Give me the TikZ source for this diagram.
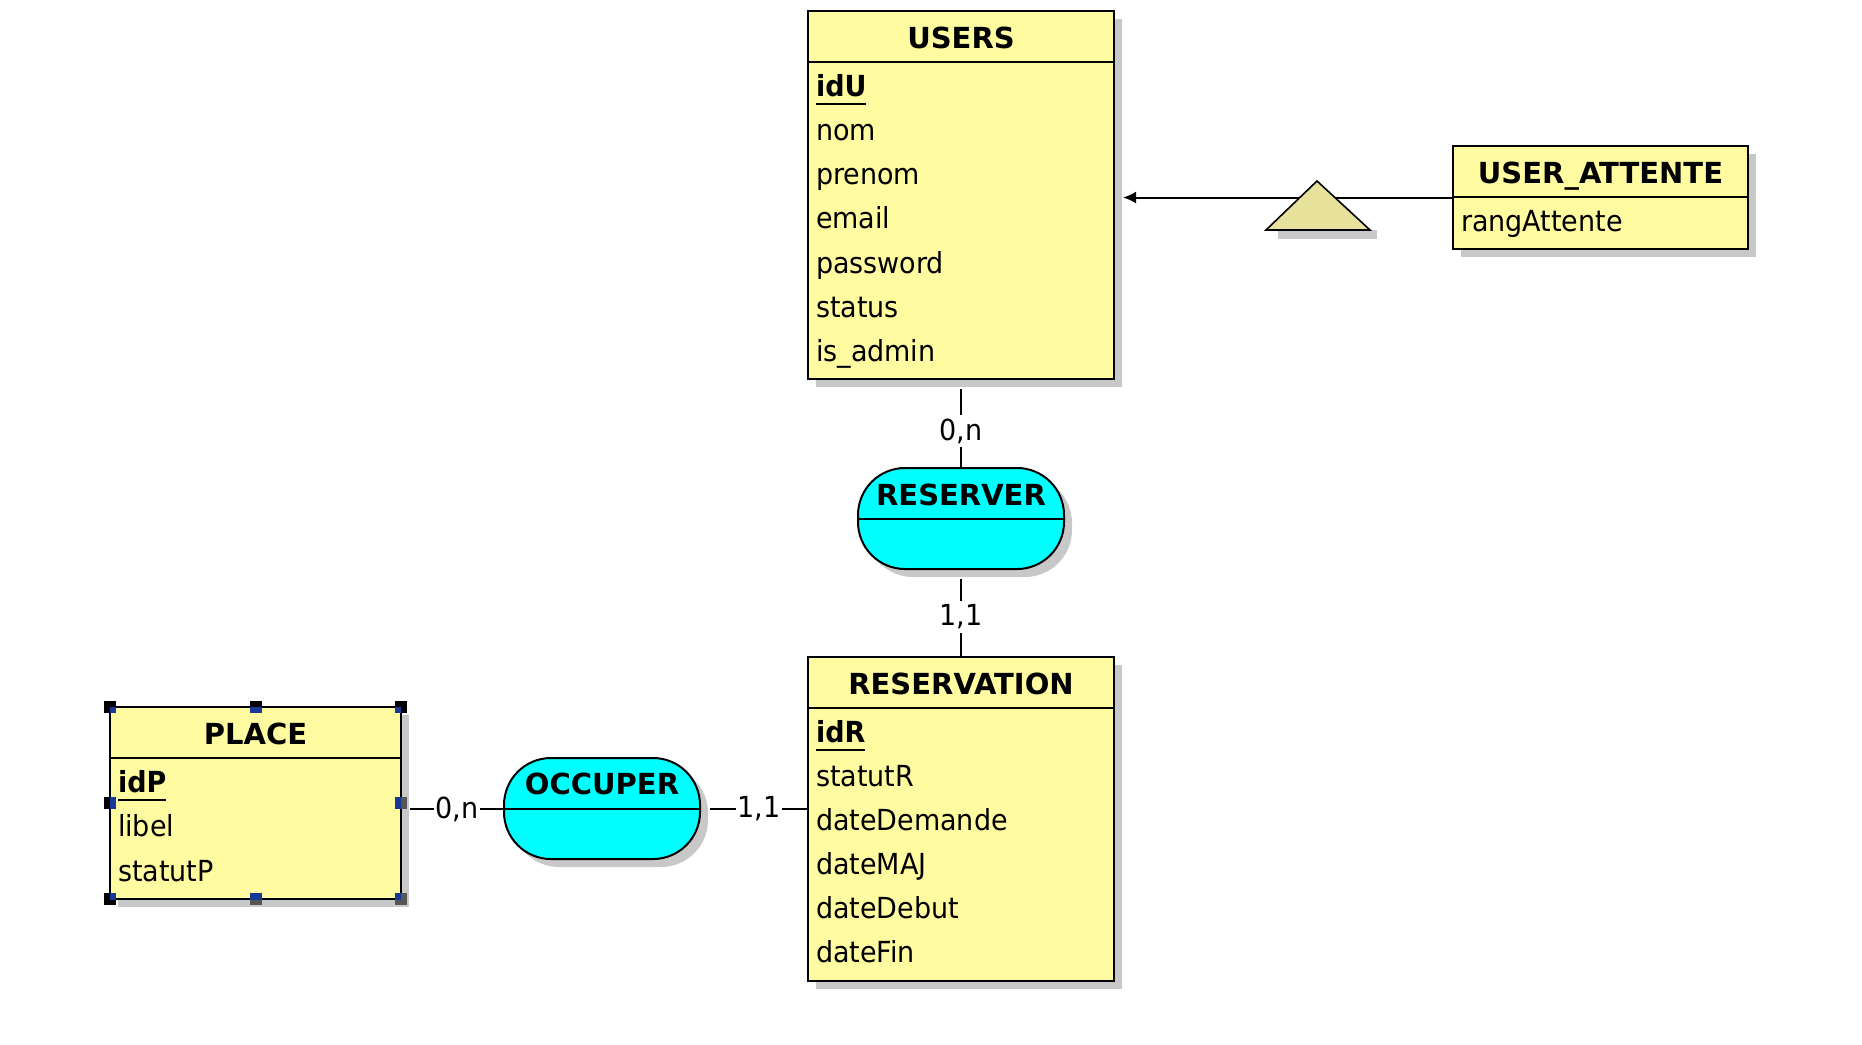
\documentclass[tikz,border=0pt]{standalone}
\usepackage{fontspec}
\setmainfont{DejaVu Sans}[FakeStretch=0.93]
\newfontfamily\titrefont{DejaVu Sans}
\usetikzlibrary{positioning, calc, shadows, arrows.meta}

\definecolor{jaune}{RGB}{255,251,160}
\definecolor{cyanasso}{RGB}{0,255,255}
\definecolor{isajaune}{RGB}{230,226,156}
\definecolor{ombre}{RGB}{200,200,200}
\definecolor{poignee}{RGB}{25,55,150}
\definecolor{poigneegris}{RGB}{85,85,85}

\tikzset{
    every node/.style={inner sep=0pt, outer sep=0pt}, % no padding, sizes are given by hand
    ombrage/.style={drop shadow={shadow xshift=8pt, shadow yshift=-8pt, fill=ombre, opacity=1}},
    entite/.style={draw, line width=2pt, fill=jaune, ombrage, anchor=north west}, % entity boxes
    association/.style={draw, line width=2pt, fill=cyanasso, rounded corners=47pt, ombrage,
        minimum width=206pt, minimum height=101pt},
    titre/.style={font=\titrefont\bfseries\fontsize{29}{35}\selectfont, anchor=base},
    attribut/.style={font=\fontsize{29}{35}\selectfont, anchor=base west},
    cle/.style={attribut, font=\bfseries\fontsize{29}{35}\selectfont},
    lien/.style={draw, line width=2pt},
    card/.style={fill=white, inner xsep=2pt, inner ysep=4pt, font=\fontsize{29}{35}\selectfont},
    heritage/.style={line width=2pt, -{Latex[length=13pt, width=12pt]}},
}

\begin{document}
\begin{tikzpicture}[x=1pt, y=-1pt]
        \useasboundingbox (0,0) rectangle (1862,1044);

        % Entities
        % \node[entite, <size>] (name) at (<top left>) {};
        \node[entite, minimum width=306pt, minimum height=368pt] (USERS) at (808,11) {};
        \node[entite, minimum width=295pt, minimum height=103pt] (UATT) at (1453,146) {};
        \node[association] (RESERVER) [below=89pt of USERS] {};
        \node[entite, minimum width=306pt, minimum height=324pt] (RESERVATION) [below=88pt of RESERVER] {};
        \node[association, minimum width=196pt] (OCCUPER) at (602,808.5) {};
        \node[entite, minimum width=291pt, minimum height=192pt] (PLACE) at (110,707) {};

        % titles and header lines
        \foreach \ent/\nom in {USERS/USERS, UATT/USER\_ATTENTE, RESERVATION/RESERVATION, PLACE/PLACE}{
            \node[titre] (\ent-titre) at ($(\ent.north)+(0,37)$) {\nom};
            \draw[lien] ($(\ent.north west)+(0,51)$) -- ($(\ent.north east)+(0,51)$);
        }
        \foreach \asso/\nom/\dy in {RESERVER/RESERVER/-13, OCCUPER/OCCUPER/-14}{
            \node[titre] (\asso-titre) at ($(\asso.center)+(0,\dy)$) {\nom};
            \draw[lien] (\asso.west) -- (\asso.east);
        }

        % attributes, keys underlined
        \node[cle] (idU) at ($(USERS.north west)+(8,85)$) {idU};
        \draw[lien] ($(idU.base west)+(0,8)$) -- ($(idU.base east)+(0,8)$);
        \foreach \attr [count=\i] in {nom, prenom, email, password, status, is\_admin}
            \node[attribut] at ($(USERS.north west)+(8,{85+44.3*\i})$) {\attr};

        \node[attribut] (rang) at ($(UATT.north west)+(8,85)$) {rangAttente};

        \node[cle] (idR) at ($(RESERVATION.north west)+(8,85)$) {idR};
        \draw[lien] ($(idR.base west)+(0,8)$) -- ($(idR.base east)+(0,8)$);
        \foreach \attr [count=\i] in {statutR, dateDemande, dateMAJ, dateDebut, dateFin}
            \node[attribut] at ($(RESERVATION.north west)+(8,{85+44*\i})$) {\attr};

        \node[cle] (idP) at ($(PLACE.north west)+(8,85)$) {idP};
        \draw[lien] ($(idP.base west)+(0,8)$) -- ($(idP.base east)+(0,8)$);
        \foreach \attr [count=\i] in {libel, statutP}
            \node[attribut] at ($(PLACE.north west)+(8,{85+44.5*\i})$) {\attr};

        % cardinalities
        \node[card] (cUR) at (961,431) {0,n};
        \node[card] (cRR) at (961,617) {1,1};
        \node[card] (cPO) at (457,809) {0,n};
        \node[card] (cOR) at (759,809) {1,1};

        % draw links
        \draw[lien, shorten <=10pt] (USERS) -- (cUR);
        \draw[lien] (cUR) -- (RESERVER);
        \draw[lien, shorten <=10pt] (RESERVER) -- (cRR);
        \draw[lien] (cRR) -- (RESERVATION);
        \draw[lien, shorten <=9pt] (cPO -| PLACE.east) -- (cPO);
        \draw[lien] (cPO) -- (cPO -| OCCUPER.west);
        \draw[lien, shorten <=10pt] (cOR -| OCCUPER.east) -- (cOR);
        \draw[lien] (cOR) -- (cOR -| RESERVATION.west);

        % inheritance USER_ATTENTE -> USERS
        \coordinate (pointe) at ($(UATT.west -| USERS.east)+(9,0)$);
        \draw[heritage] (UATT.west) -- (pointe);
        \coordinate (isaG) at (1266,230);
        \coordinate (isaS) at (1317,181);
        \coordinate (isaD) at (1370,230);
        \fill[ombre] ($(isaG)+(12,0)$) rectangle ($(isaD)+(7,9)$);
        \filldraw[line width=1.6pt, fill=isajaune] (isaG) -- (isaS) -- (isaD) -- cycle;

        % selection handles round PLACE
        \foreach \pos in {north west, north, north east, west, south west}
            \fill[black] ($(PLACE.\pos)+(-6,-6)$) rectangle ++(12,12);
        \foreach \pos in {east, south, south east}
            \fill[poigneegris] ($(PLACE.\pos)+(-6,-6)$) rectangle ++(12,12);
        \begin{scope}
            \clip (PLACE.north west) rectangle (PLACE.south east);
            \foreach \pos in {north west, north, north east, west, east, south west, south, south east}
                \fill[poignee] ($(PLACE.\pos)+(-6,-6)$) rectangle ++(12,12);
        \end{scope}
\end{tikzpicture}
\end{document}
